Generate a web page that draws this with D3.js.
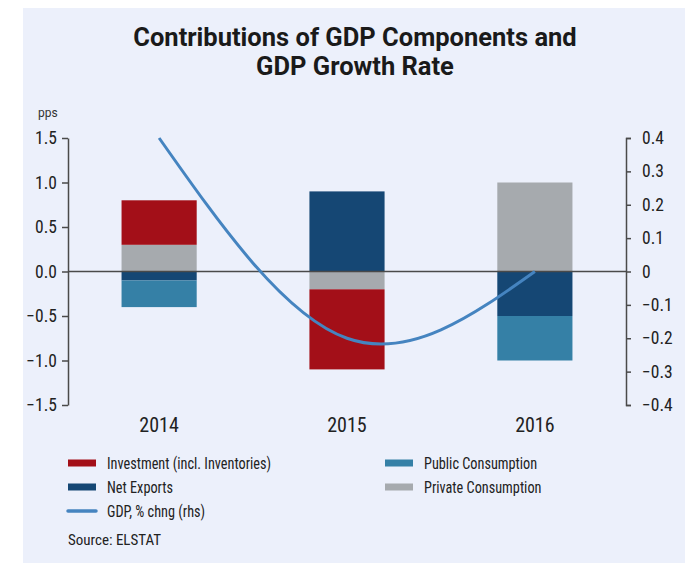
<!DOCTYPE html>
<html>
<head>
<meta charset="utf-8">
<script src="https://cdn.jsdelivr.net/npm/d3@7"></script>
<style>
  html, body { margin: 0; padding: 0; background: #ffffff; }
  svg { display: block; }
  .narrow { font-family: "Liberation Sans Narrow", "Roboto Condensed", "DejaVu Sans Condensed", Roboto, sans-serif; }
</style>
</head>
<body>
<svg id="chart" width="699" height="563"></svg>
<script>
// ---------- data ----------
const years = ["2014", "2015", "2016"];
const investment = [0.5, -0.9, 0.0];
const netExports = [-0.1, 0.9, -0.5];
const publicConsumption = [-0.3, 0.0, -0.5];
const privateConsumption = [0.3, -0.2, 1.0];
const gdpGrowth = [0.4, -0.2, 0.0];
const leftTicks = [-1.5, -1.0, -0.5, 0.0, 0.5, 1.0, 1.5];
const rightTicks = [-0.4, -0.3, -0.2, -0.1, 0, 0.1, 0.2, 0.3, 0.4];

const seriesKeys = ["Private Consumption", "Net Exports", "Public Consumption", "Investment (incl. Inventories)"];
const seriesColors = {
  "Investment (incl. Inventories)": "#A30F18",
  "Net Exports": "#154774",
  "Public Consumption": "#3580A6",
  "Private Consumption": "#A6AAAE"
};
const lineColor = "#4584C0";

const table = years.map((y, i) => ({
  year: y,
  "Investment (incl. Inventories)": investment[i],
  "Net Exports": netExports[i],
  "Public Consumption": publicConsumption[i],
  "Private Consumption": privateConsumption[i]
}));

// ---------- setup ----------
const svg = d3.select("#chart");
svg.append("rect").attr("x", 23).attr("y", 8).attr("width", 662).attr("height", 555).attr("fill", "#ECF0FB");

const x = d3.scaleBand().domain(years).range([68, 626]).paddingInner(0.6).paddingOuter(0.285);
const yL = d3.scaleLinear().domain([-1.5, 1.5]).range([405, 138]);
const yR = d3.scaleLinear().domain([-0.4, 0.4]).range([405, 138]);

// title
const title = svg.append("text").attr("text-anchor", "middle")
  .attr("font-family", "Roboto, 'Liberation Sans', sans-serif").attr("font-weight", "bold")
  .attr("font-size", 25.5).attr("fill", "#1a1a1a");
title.append("tspan").attr("x", 355).attr("y", 46).text("Contributions of GDP Components and");
title.append("tspan").attr("x", 355).attr("y", 75).text("GDP Growth Rate");

// bars
const stack = d3.stack().keys(seriesKeys).offset(d3.stackOffsetDiverging);
const stacked = stack(table);
svg.append("g").selectAll("g").data(stacked).join("g")
  .attr("fill", d => seriesColors[d.key])
  .selectAll("rect").data(d => d).join("rect")
  .attr("x", d => x(d.data.year))
  .attr("width", x.bandwidth())
  .attr("y", d => yL(Math.max(d[0], d[1])))
  .attr("height", d => Math.abs(yL(d[0]) - yL(d[1])));

// zero line
svg.append("line").attr("x1", 68).attr("x2", 626).attr("y1", yL(0)).attr("y2", yL(0))
  .attr("stroke", "#4a4a4a").attr("stroke-width", 1.5);

// line
const line = d3.line().x((d, i) => x(years[i]) + x.bandwidth() / 2).y(d => yR(d)).curve(d3.curveNatural);
svg.append("path").datum(gdpGrowth).attr("d", line).attr("fill", "none")
  .attr("stroke", lineColor).attr("stroke-width", 3);

// axes
const axL = svg.append("g").attr("class", "narrow").attr("transform", "translate(68,0)")
  .call(d3.axisLeft(yL).tickValues(leftTicks).tickFormat(d3.format(".1f")).tickSize(6).tickSizeOuter(0).tickPadding(5));
const axR = svg.append("g").attr("class", "narrow").attr("transform", "translate(626,0)")
  .call(d3.axisRight(yR).tickValues(rightTicks).tickFormat(d => d === 0 ? "0" : d3.format(".1f")(d)).tickSize(5).tickSizeOuter(5).tickPadding(11));
[axL, axR].forEach(a => {
  a.selectAll("path, line").attr("stroke", "#4a4a4a").attr("stroke-width", 1.5);
  a.selectAll("text").attr("font-size", 17.5).attr("fill", "#222").attr("font-family", null);
  a.attr("font-family", null);
});

// x labels
svg.append("g").attr("class", "narrow").selectAll("text").data(years).join("text")
  .attr("x", d => x(d) + x.bandwidth() / 2).attr("y", 432).attr("text-anchor", "middle")
  .attr("font-size", 20).attr("fill", "#222").text(d => d);

// pps
svg.append("text").attr("x", 38).attr("y", 117).attr("font-family", "Roboto, sans-serif")
  .attr("font-size", 12).attr("fill", "#333").text("pps");

// legend
const legendItems = [
  { label: "Investment (incl. Inventories)", type: "bar", x: 68, y: 463 },
  { label: "Net Exports", type: "bar", x: 68, y: 487 },
  { label: "GDP, % chng (rhs)", type: "line", x: 68, y: 511 },
  { label: "Public Consumption", type: "bar", x: 385, y: 463 },
  { label: "Private Consumption", type: "bar", x: 385, y: 487 }
];
const lg = svg.append("g").attr("class", "narrow");
legendItems.forEach(it => {
  if (it.type === "bar") {
    lg.append("rect").attr("x", it.x).attr("y", it.y - 3.5).attr("width", 28).attr("height", 7)
      .attr("fill", seriesColors[it.label]);
  } else {
    lg.append("line").attr("x1", it.x).attr("x2", it.x + 28).attr("y1", it.y).attr("y2", it.y)
      .attr("stroke", lineColor).attr("stroke-width", 3.5).attr("stroke-linecap", "round");
  }
  lg.append("text").attr("transform", `translate(${it.x + 39},${it.y + 5.5}) scale(0.84,1)`)
    .attr("font-size", 17).attr("fill", "#222").text(it.label);
});

svg.append("text").attr("class", "narrow").attr("x", 68).attr("y", 545).attr("font-size", 15)
  .attr("fill", "#222").text("Source: ELSTAT");
</script>
</body>
</html>
